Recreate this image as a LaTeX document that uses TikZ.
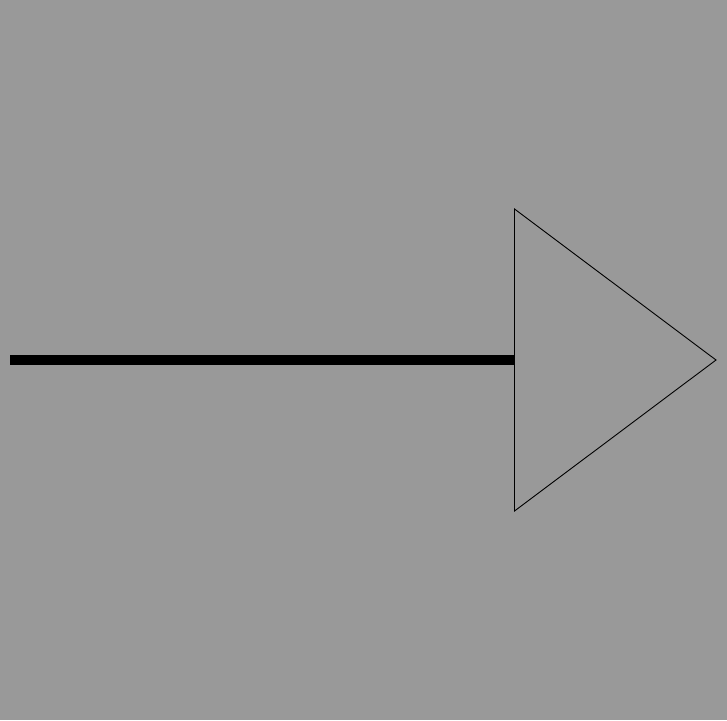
\documentclass[tikz,border=0pt]{standalone}
\definecolor{bggray}{HTML}{999999}
\begin{document}
\begin{tikzpicture}[x=1pt,y=-1pt,line join=miter]
	\def\w{727} \def\h{720} % Bildgroesse
	\fill[bggray] (0,0) rectangle (\w,\h);
	\useasboundingbox (0,0) rectangle (\w,\h);
	\coordinate (start) at (10,360);
	\coordinate (base) at (514.5,360);
	\coordinate (top) at (514.5,209);
	\coordinate (tip) at (716,360);
	\coordinate (bot) at (514.5,511);
	\draw[line width=9.5pt] (start)--(base);
	\draw[line width=0.9pt] (top)--(tip)--(bot)--cycle;
\end{tikzpicture}
\end{document}
